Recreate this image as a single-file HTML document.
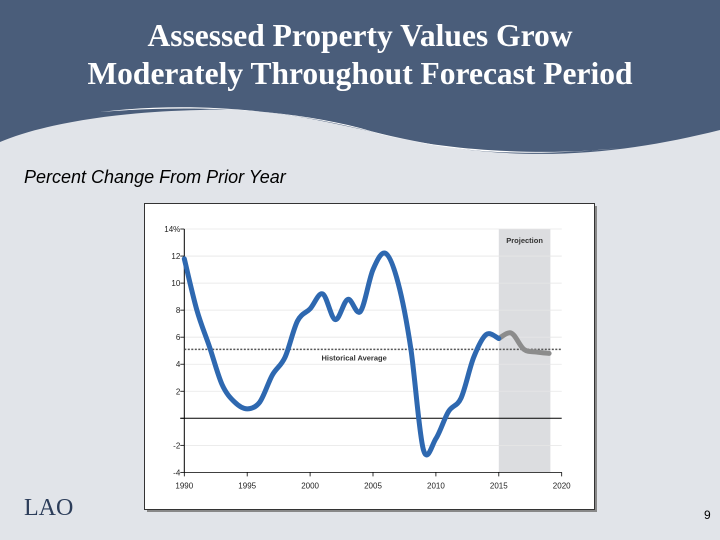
<!DOCTYPE html>
<html><head><meta charset="utf-8"><style>
body{margin:0;width:720px;height:540px;overflow:hidden;background:#e1e4e9;font-family:"Liberation Sans",sans-serif;position:relative}
#title{position:absolute;left:0;top:17px;width:720px;text-align:center;color:#fff;font-family:"Liberation Serif",serif;font-weight:bold;font-size:31.5px;line-height:38px}
#sub{position:absolute;left:24px;top:167px;font-style:italic;font-size:18px;color:#000}
#pg{position:absolute;left:704px;top:508px;font-size:12px}
#logo{position:absolute;left:24px;top:495px;font-family:"Liberation Serif",serif;font-size:24px;color:#2c3d5a}
</style></head><body>
<svg width="720" height="540" style="position:absolute;left:0;top:0">
<path d="M0,0H720V130C640,150 560,160 470,150C380,140 300,105 200,110C110,112 40,125 0,142Z" fill="#4a5d7a"/>
<path d="M100,112C200,100 300,112 380,134C450,152 550,156 620,148C500,160 430,148 360,128C290,110 200,104 100,112Z" fill="#fff"/>
</svg>
<div id="title">Assessed Property Values Grow<br>Moderately Throughout Forecast Period</div>
<div id="sub">Percent Change From Prior Year</div>
<svg id="chart" width="720" height="540" style="position:absolute;left:0;top:0"></svg>
<div id="logo">LAO</div>
<div id="pg">9</div>
<script>
const years=[1990,1991,1992,1993,1994,1995,1996,1997,1998,1999,2000,2001,2002,2003,2004,2005,2006,2007,2008,2009,2010,2011,2012,2013,2014,2015];
const values=[11.8,8,5.3,2.5,1.2,0.7,1.2,3.2,4.5,7.2,8.1,9.2,7.3,8.8,7.9,11,12.2,10,5.2,-2.3,-1.5,0.5,1.5,4.5,6.2,5.9];
const projYears=[2015,2016,2017,2018,2019];
const projValues=[5.9,6.3,5.1,4.9,4.8];
const yTicks=[14,12,10,8,6,4,2,0,-2,-4];
const yTickLabels=["14%","12","10","8","6","4","2","","-2","-4"];
const xTicks=[1990,1995,2000,2005,2010,2015,2020];
const histAvg=5.1;
const projRange=[2015,2019.1];
const svg=document.getElementById('chart');const NS='http://www.w3.org/2000/svg';
const X=y=>184.3+(y-1990)*12.58, Y=v=>418.3-v*13.52;
function el(t,a,p){const e=document.createElementNS(NS,t);for(const k in a)e.setAttribute(k,a[k]);(p||svg).appendChild(e);return e;}
const frame=el('rect',{x:147,y:206,width:450,height:306,fill:'#888'});


const box=el('rect',{x:144.5,y:203.5,width:450,height:306,fill:'#fff',stroke:'#333'});


const band=el('rect',{x:X(projRange[0]),y:Y(14),width:X(projRange[1])-X(projRange[0]),height:Y(-4)-Y(14),fill:'#dcdde0'});


const pl=el('text',{x:(X(projRange[0])+X(projRange[1]))/2,y:243,'font-size':7.5,'font-weight':'bold','text-anchor':'middle',fill:'#333'});pl.textContent='Projection';


yTicks.forEach((t,i)=>{
 if(t!==0&&t!==-4){const g=el('line',{x1:X(1990),x2:X(2020),y1:Y(t),y2:Y(t),stroke:'#e6e6e6','stroke-width':0.8});
 
 }
 el('line',{x1:X(1990)-4,x2:X(1990),y1:Y(t),y2:Y(t),stroke:'#000','stroke-width':0.8});
 const tx=el('text',{x:X(1990)-4,y:Y(t)+3,'font-size':8,'text-anchor':'end',fill:'#222'});tx.textContent=yTickLabels[i];
 
 
});
xTicks.forEach(t=>{el('line',{x1:X(t),x2:X(t),y1:Y(-4),y2:Y(-4)+4,stroke:'#000','stroke-width':0.8});
 const tx=el('text',{x:X(t),y:Y(-4)+16,'font-size':8,'text-anchor':'middle',fill:'#222'});tx.textContent=t;
 
 });
const ya=el('line',{x1:X(1990),x2:X(1990),y1:Y(14),y2:Y(-4),stroke:'#000','stroke-width':1});


const xa=el('line',{x1:X(1990),x2:X(2020),y1:Y(-4),y2:Y(-4),stroke:'#000','stroke-width':0.8});


const zl=el('line',{x1:X(1990)-4,x2:X(2020),y1:Y(0),y2:Y(0),stroke:'#000','stroke-width':1});


const ha=el('line',{x1:X(1990),x2:X(2020),y1:Y(histAvg),y2:Y(histAvg),stroke:'#555','stroke-width':1.5,'stroke-dasharray':'2,1.5'});


const hl=el('text',{x:X(2003.5),y:Y(histAvg)+11,'font-size':7.5,'font-weight':'bold','text-anchor':'middle',fill:'#333'});hl.textContent='Historical Average';


function smooth(xs,vs){const p=xs.map((x,i)=>[X(x),Y(vs[i])]);let d='M'+p[0];
 for(let i=0;i<p.length-1;i++){const a=p[i-1]||p[i],b=p[i],c=p[i+1],e=p[i+2]||c;
 d+=`C${b[0]+(c[0]-a[0])/6},${b[1]+(c[1]-a[1])/6} ${c[0]-(e[0]-b[0])/6},${c[1]-(e[1]-b[1])/6} ${c[0]},${c[1]}`;}return d;}
const pr=el('path',{d:smooth(projYears,projValues),fill:'none',stroke:'#8c8c8c','stroke-width':5,'stroke-linecap':'round'});


const hs=el('path',{d:smooth(years,values),fill:'none',stroke:'#2e68b0','stroke-width':5,'stroke-linecap':'round','stroke-linejoin':'round'});


</script>
</body></html>
